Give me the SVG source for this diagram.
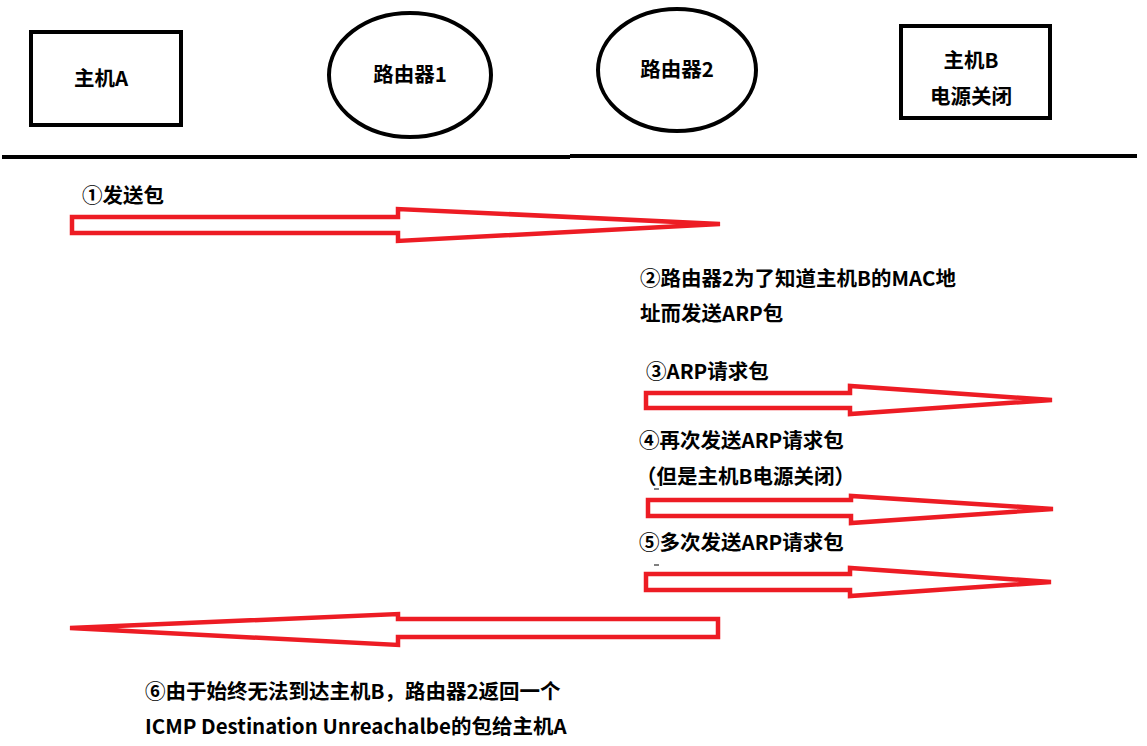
<svg xmlns="http://www.w3.org/2000/svg" width="1147" height="746" viewBox="0 0 1147 746">
<style>
.n{fill:#fff;stroke:#000;stroke-width:4}
.t{font-family:"Noto Sans CJK SC","Microsoft YaHei",sans-serif;font-weight:bold;font-size:20.5px;fill:#000}
.c{text-anchor:middle}
.a{fill:none;stroke:#ed1c24;stroke-width:4.5;stroke-linejoin:miter}
.l{stroke:#000;stroke-width:4;fill:none}
</style>
<rect width="1147" height="746" fill="#fff"/>
<g id="hostA"><rect class="n" x="31" y="32" width="150" height="93"/><text class="t c" x="101" y="86">主机A</text></g>
<g id="router1"><ellipse class="n" cx="410" cy="75" rx="81" ry="62"/><text class="t c" x="410" y="82">路由器1</text></g>
<g id="router2"><ellipse class="n" cx="677" cy="70" rx="79" ry="61"/><text class="t c" x="677" y="77">路由器2</text></g>
<g id="hostB"><rect class="n" x="901" y="26" width="149" height="92"/><text class="t c" x="971" y="68">主机B</text><text class="t c" x="971" y="104">电源关闭</text></g>
<g id="bus"><path class="l" d="M2 157 H570 M570 156 H1137"/></g>
<g id="connectors">
<path class="a" d="M72 217 H398 V209 L720 224 L398 241 V233 H72 Z"/>
<path class="a" d="M646 393 H850 V386 L1052 400 L850 414 V408 H646 Z"/>
<path class="a" d="M648 500 H851 V496 L1053 509 L851 523 V516 H648 Z"/>
<path class="a" d="M646 574 H850 V568 L1051 582 L850 596 V590 H646 Z"/>
<path class="a" d="M718 619 H398 V614 L70 628 L398 645 V637 H718 Z"/>
</g>
<g id="labels">
<text class="t" x="82" y="203">①发送包</text>
<text class="t" x="640" y="286">②路由器2为了知道主机B的MAC地</text>
<text class="t" x="640" y="321">址而发送ARP包</text>
<text class="t" x="646" y="379">③ARP请求包</text>
<text class="t" x="639" y="448">④再次发送ARP请求包</text>
<text class="t" x="636" y="484">（但是主机B电源关闭）</text>
<text class="t" x="639" y="550">⑤多次发送ARP请求包</text>
<text class="t" x="145" y="699">⑥由于始终无法到达主机B，路由器2返回一个</text>
<text class="t" x="145" y="734">ICMP Destination Unreachalbe的包给主机A</text>
</g>
<path d="M654 489 H659 M654 565 H659" stroke="#000" stroke-width="1"/>
</svg>
